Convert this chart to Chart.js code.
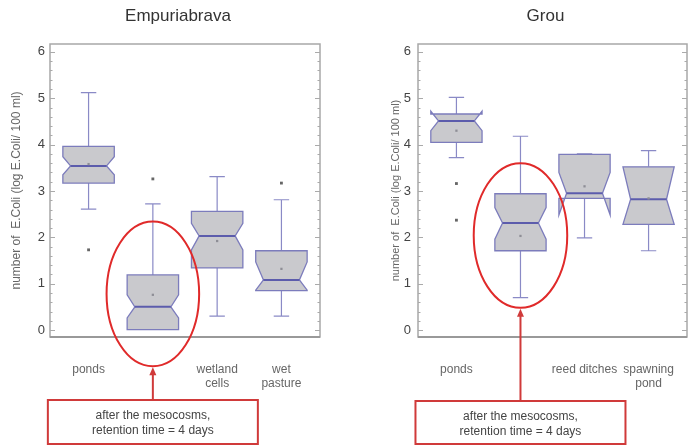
<!DOCTYPE html>
<html><head><meta charset="utf-8">
<script src="https://cdn.jsdelivr.net/npm/chart.js@4.4.1/dist/chart.umd.min.js"></script>
<style>
html,body{margin:0;padding:0;background:#fff;width:691px;height:446px;overflow:hidden}
canvas{position:absolute;top:0}
</style></head><body>
<canvas id="a" width="345" height="446" style="left:0"></canvas>
<canvas id="b" width="346" height="446" style="left:345px"></canvas>
<script>
// ---------- data ----------
const yTickValues = [0, 1, 2, 3, 4, 5, 6];
const yTitle = 'number of  E.Coli (log E.Coli/ 100 ml)';
const noteLines = ['after the mesocosms,', 'retention time = 4 days'];

// Empuriabrava
const titleE = 'Empuriabrava';
const catsE = ['ponds', '', ['wetland', 'cells'], ['wet', 'pasture']];
const q1E = [3.17, 0.01, 1.34, 0.85];
const medE = [3.54, 0.50, 2.03, 1.08];
const q3E = [3.96, 1.19, 2.56, 1.71];
const wLoE = [2.61, 0.01, 0.30, 0.30];
const wHiE = [5.12, 2.72, 3.31, 2.81];
const notchLoE = [3.35, 0.26, 1.73, 0.86];
const notchHiE = [3.74, 0.76, 2.30, 1.47];
const meanE = [3.58, 0.76, 1.92, 1.32];
const outCatE = [1, 2, 4];
const outValE = [1.73, 3.26, 3.17];
const ellipseE = {cat: 2, y: 0.78, rx: 0.72, ry: 1.56};

// Grou
const titleG = 'Grou';
const catsG = ['ponds', '', 'reed ditches', ['spawning', 'pond']];
const q1G = [4.05, 1.71, 2.84, 2.28];
const medG = [4.51, 2.31, 2.95, 2.82];
const q3G = [4.66, 2.94, 3.79, 3.52];
const wLoG = [3.72, 0.70, 1.99, 1.71];
const wHiG = [5.02, 4.18, 3.80, 3.87];
const notchLoG = [4.30, 1.96, 2.48, 2.28];
const notchHiG = [4.72, 2.64, 3.40, 3.52];
const meanG = [4.30, 2.03, 3.10, 2.84];
const outCatG = [1, 1];
const outValG = [3.16, 2.37];
const ellipseG = {cat: 2, y: 2.04, rx: 0.73, ry: 1.56};

// ---------- drawing ----------
const FONT = '"Liberation Sans", Arial, sans-serif';

function makePlugin(p) {
  return {
    id: 'box' + p.id,
    beforeDatasetsDraw(chart) {
      const ctx = chart.ctx, a = chart.chartArea;
      const xs = chart.scales.x, ys = chart.scales.y;
      ctx.save();
      // frame
      ctx.strokeStyle = '#a8a8a8'; ctx.lineWidth = 1.5;
      ctx.strokeRect(a.left, a.top, a.right - a.left, a.bottom - a.top);
      ctx.strokeStyle = '#999'; ctx.lineWidth = 2;
      ctx.beginPath(); ctx.moveTo(a.left, a.bottom); ctx.lineTo(a.right, a.bottom); ctx.stroke();
      // y minor/major ticks on both sides
      ctx.strokeStyle = '#aaa'; ctx.lineWidth = 1;
      for (let k = 0; k <= 30; k++) {
        const y = Math.round(ys.getPixelForValue(k / 5)) + 0.5;
        const len = k % 5 === 0 ? 5 : 2.5;
        ctx.beginPath();
        ctx.moveTo(a.left, y); ctx.lineTo(a.left + len, y);
        ctx.moveTo(a.right, y); ctx.lineTo(a.right - len, y);
        ctx.stroke();
      }
      const unit = xs.getPixelForValue(2) - xs.getPixelForValue(1);
      const hw = 0.40 * unit, nw = 0.28 * unit, cw = 0.12 * unit;
      const py = v => ys.getPixelForValue(v);
      for (let i = 0; i < p.q1.length; i++) {
        const x = xs.getPixelForValue(i + 1);
        // whiskers
        ctx.strokeStyle = '#8a8ac6'; ctx.lineWidth = 1.2;
        ctx.beginPath();
        if (p.wHi[i] > p.q3[i]) {
          ctx.moveTo(x, py(p.q3[i])); ctx.lineTo(x, py(p.wHi[i]));
          ctx.moveTo(x - cw, py(p.wHi[i])); ctx.lineTo(x + cw, py(p.wHi[i]));
        }
        if (p.wLo[i] < p.q1[i] - 0.02) {
          ctx.moveTo(x, py(p.q1[i])); ctx.lineTo(x, py(p.wLo[i]));
          ctx.moveTo(x - cw, py(p.wLo[i])); ctx.lineTo(x + cw, py(p.wLo[i]));
        }
        ctx.stroke();
        // notched box
        ctx.beginPath();
        ctx.moveTo(x - hw, py(p.q1[i]));
        ctx.lineTo(x - hw, py(p.nLo[i]));
        ctx.lineTo(x - nw, py(p.med[i]));
        ctx.lineTo(x - hw, py(p.nHi[i]));
        ctx.lineTo(x - hw, py(p.q3[i]));
        ctx.lineTo(x + hw, py(p.q3[i]));
        ctx.lineTo(x + hw, py(p.nHi[i]));
        ctx.lineTo(x + nw, py(p.med[i]));
        ctx.lineTo(x + hw, py(p.nLo[i]));
        ctx.lineTo(x + hw, py(p.q1[i]));
        ctx.closePath();
        ctx.fillStyle = '#c9c9cd'; ctx.fill();
        ctx.strokeStyle = '#7c7cbc'; ctx.lineWidth = 1.3; ctx.stroke();
        // median
        ctx.strokeStyle = '#5c5cac'; ctx.lineWidth = 2;
        ctx.beginPath(); ctx.moveTo(x - nw, py(p.med[i])); ctx.lineTo(x + nw, py(p.med[i])); ctx.stroke();
      }
      ctx.restore();
    },
    afterDraw(chart) {
      const ctx = chart.ctx, a = chart.chartArea;
      const xs = chart.scales.x, ys = chart.scales.y;
      ctx.save();
      // title
      ctx.fillStyle = '#333'; ctx.font = '17px ' + FONT;
      ctx.textAlign = 'center'; ctx.textBaseline = 'middle';
      ctx.fillText(p.title, (a.left + a.right) / 2 - 7, 16);
      // ellipse
      const e = p.ell;
      const cx = xs.getPixelForValue(e.cat), cy = ys.getPixelForValue(e.y);
      const rx = xs.getPixelForValue(e.cat + e.rx) - cx;
      const ry = cy - ys.getPixelForValue(e.y + e.ry);
      ctx.strokeStyle = '#e02a2a'; ctx.lineWidth = 2;
      ctx.beginPath(); ctx.ellipse(cx, cy, rx, ry, 0, 0, Math.PI * 2); ctx.stroke();
      // annotation box
      const bw = 210, bTop = p.boxTop, bBot = 444;
      const bx = cx - bw / 2;
      ctx.strokeStyle = '#d03a3a'; ctx.lineWidth = 2;
      ctx.strokeRect(bx, bTop, bw, bBot - bTop);
      // arrow
      const tipY = cy + ry + 2;
      ctx.beginPath(); ctx.moveTo(cx, bTop); ctx.lineTo(cx, tipY + 4); ctx.stroke();
      ctx.fillStyle = '#d03a3a';
      ctx.beginPath(); ctx.moveTo(cx, tipY - 1); ctx.lineTo(cx - 3.5, tipY + 7); ctx.lineTo(cx + 3.5, tipY + 7); ctx.closePath(); ctx.fill();
      // text
      ctx.fillStyle = '#444'; ctx.font = '12px ' + FONT;
      ctx.fillText(noteLines[0], cx, bTop + 16);
      ctx.fillText(noteLines[1], cx, bTop + 31);
      ctx.restore();
    }
  };
}

function makeChart(id, p) {
  const pts = p.outCat.map((c, i) => ({x: c, y: p.outVal[i]}));
  const means = p.mean.map((v, i) => ({x: i + 1, y: v}));
  return new Chart(document.getElementById(id), {
    type: 'scatter',
    data: {
      datasets: [
        {data: means, pointStyle: 'rect', radius: 1.6, backgroundColor: '#8e8e96', borderWidth: 0},
        {data: pts, pointStyle: 'rect', radius: 2, backgroundColor: '#666', borderWidth: 0}
      ]
    },
    options: {
      responsive: false, animation: false,
      layout: {padding: {left: p.padL, right: p.padR, top: 44, bottom: 0}},
      plugins: {legend: {display: false}, tooltip: {enabled: false}, title: {display: false}},
      scales: {
        x: {
          type: 'linear', min: 0.4, max: 4.6,
          grid: {display: false, drawTicks: false}, border: {display: false},
          afterBuildTicks: s => { s.ticks = [1, 2, 3, 4].map(v => ({value: v})); },
          afterFit: s => { s.height = 109; s.paddingLeft = 0; s.paddingRight = 0; },
          ticks: {autoSkip: false, maxRotation: 0, padding: 25, color: '#666',
                  font: {family: FONT, size: 12}, callback: v => p.cats[Math.round(v) - 1]}
        },
        y: {
          min: -0.15, max: 6.17,
          grid: {display: false, drawTicks: false}, border: {display: false},
          afterBuildTicks: s => { s.ticks = yTickValues.map(v => ({value: v})); },
          afterFit: s => { s.width = p.yW; s.paddingTop = 0; s.paddingBottom = 0; },
          ticks: {padding: p.tickPad, color: '#444', font: {family: FONT, size: 13}},
          title: {display: true, text: yTitle, color: '#666', font: {family: FONT, size: p.yTitleSize}}
        }
      }
    },
    plugins: [makePlugin(p)]
  });
}

makeChart('a', {id: 'E', title: titleE, cats: catsE, q1: q1E, med: medE, q3: q3E, wLo: wLoE, wHi: wHiE,
  nLo: notchLoE, nHi: notchHiE, mean: meanE, outCat: outCatE, outVal: outValE, ell: ellipseE,
  padL: 5, padR: 25, yW: 45, tickPad: 5, yTitleSize: 12, boxTop: 400});
makeChart('b', {id: 'G', title: titleG, cats: catsG, q1: q1G, med: medG, q3: q3G, wLo: wLoG, wHi: wHiG,
  nLo: notchLoG, nHi: notchHiG, mean: meanG, outCat: outCatG, outVal: outValG, ell: ellipseG,
  padL: 40, padR: 3, yW: 33, tickPad: 7, yTitleSize: 11, boxTop: 401});
</script>
</body></html>
